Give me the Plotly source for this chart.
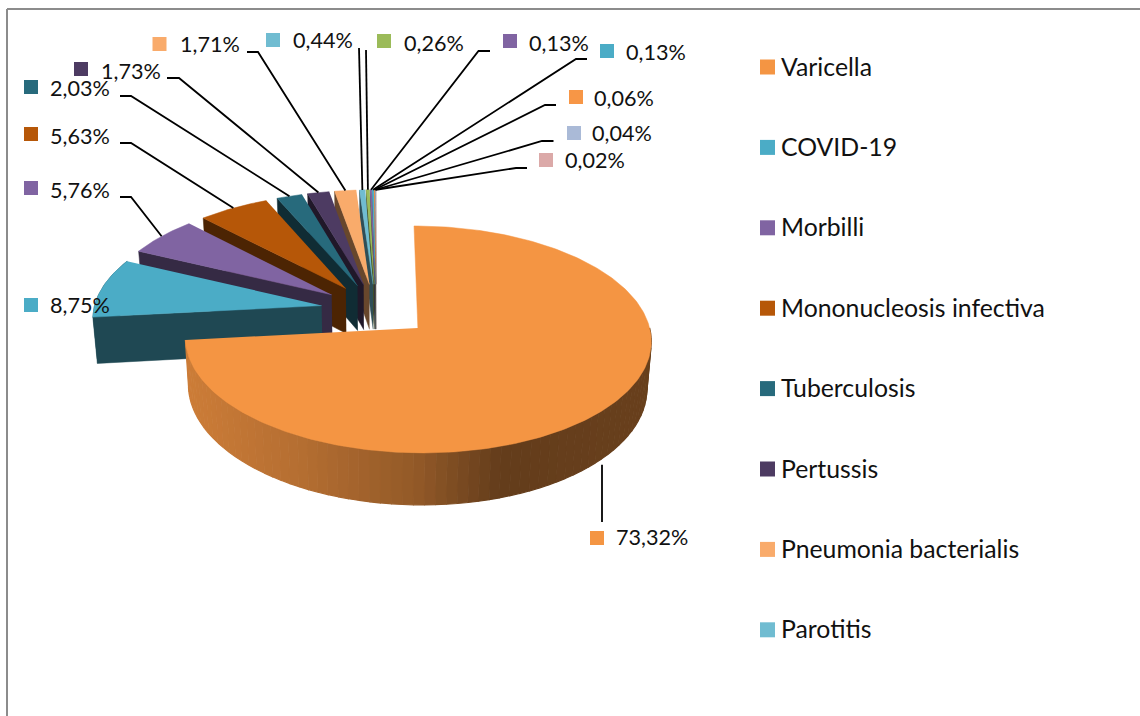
import math
import plotly.graph_objects as go

# ---------- data ----------
percent_labels = ["73,32%", "8,75%", "5,76%", "5,63%", "2,03%", "1,73%", "1,71%",
                  "0,44%", "0,26%", "0,13%", "0,13%", "0,06%", "0,04%", "0,02%"]
values = [73.32, 8.75, 5.76, 5.63, 2.03, 1.73, 1.71, 0.44, 0.26, 0.13, 0.13, 0.06, 0.04, 0.02]
legend_names = ["Varicella", "COVID-19", "Morbilli", "Mononucleosis infectiva",
                "Tuberculosis", "Pertussis", "Pneumonia bacterialis", "Parotitis"]
colors = ["#F49543", "#4BACC6", "#8064A2", "#B65708", "#276A7C", "#4D3B62", "#F9AB6B",
          "#70BCD1", "#9BBB59", "#8064A2", "#4BACC6", "#F79646", "#AABAD7", "#DBA9A8"]

# ---------- layout of the projection ----------
CX, CY = 376, 310
RX, RY = 228, 108.7
PERSP = 0.0995
EXPLODE = 0.243
DEPTH = 46
TAPER = 0.016

# label layout: square centre, text x, text y, leader stub start, stub end
label_layout = [
    (597, 538, 616, 538, (602, 522), (602, 522)),
    (31, 305, 50, 306, None, None),
    (31, 188, 50, 191, (120, 197), (131, 197)),
    (31, 134, 50, 137, (120, 143), (131, 143)),
    (31, 87, 50, 89, (120, 96), (131, 96)),
    (81, 69, 101, 72, (167, 78), (179, 78)),
    (159.5, 44, 180, 45, (247, 52), (258, 52)),
    (273, 40, 293, 41, (359, 48), (359, 48)),
    (384, 41, 404, 44, (366, 50), (366, 50)),
    (510, 41, 529, 44, (490, 51), (478.5, 51)),
    (607, 51, 626, 53, (587, 59), (576, 59)),
    (576, 97, 594, 99, (556, 105), (545, 105)),
    (574, 133, 592, 134, (553.5, 141), (542, 141)),
    (546, 160, 565, 161, (527, 168), (516, 168)),
]
LEGEND_X, LEGEND_TEXT_X, LEGEND_Y0, LEGEND_STEP = 767.5, 781, 67, 80.4
TEXT_DX, TEXT_DY = -2.5, -1
FONT = "Lato"
TEXT_SIZE = 21.6
LEGEND_SIZE = 24.8


def project(u, v, z=0.0):
    s = 1 / (1 + PERSP * v)
    return CX + RX * u * s * (1 - TAPER * z), CY - RY * v * s + DEPTH * z * s


def shade(hex_color, f):
    r, g, b = (int(hex_color[i:i + 2], 16) for i in (1, 3, 5))
    return f"rgb({int(r * f)},{int(g * f)},{int(b * f)})"


fig = go.Figure()


def poly(pts, color, lw=0.5):
    fig.add_trace(go.Scatter(x=[p[0] for p in pts], y=[p[1] for p in pts], mode="lines",
                             fill="toself", fillcolor=color, line=dict(color=color, width=lw),
                             hoverinfo="skip", showlegend=False))


total = sum(values)
slices = []
cum = 0.0
for val, col in zip(values, colors):
    a0 = cum / total * 2 * math.pi
    cum += val
    a1 = cum / total * 2 * math.pi
    mid = (a0 + a1) / 2
    slices.append((a0, a1, EXPLODE * math.sin(mid), EXPLODE * math.cos(mid), col))


def outer(sl, a, z=0.0):
    return project(sl[2] + math.sin(a), sl[3] + math.cos(a), z)


def apex(sl, z=0.0):
    return project(sl[2], sl[3], z)


def arc(sl, a0, a1, z=0.0, n=None):
    n = n or max(2, int(abs(a1 - a0) * 60))
    return [outer(sl, a0 + (a1 - a0) * i / n, z) for i in range(n + 1)]


# back-most small slices first, COVID-19 next to last, Varicella last
for sl in reversed(slices[1:]):
    a0, a1, _, _, col = sl
    # outer wall for the part of the rim facing the viewer
    if a0 < 1.5 * math.pi + 0.35:
        poly(arc(sl, a0, a1) + arc(sl, a1, a0, 1), shade(col, 0.42))
    # side wall on the start edge
    poly([apex(sl), outer(sl, a0), outer(sl, a0, 1), apex(sl, 1)], shade(col, 0.42))
    poly([apex(sl)] + arc(sl, a0, a1), col)

# Varicella: rim with gradient in small pieces
v = slices[0]
wall_stops = [(0.0, 0.84), (0.25, 0.74), (0.5, 0.60), (0.68, 0.41), (1.0, 0.43)]


def wall_factor(t):
    for (t0, f0), (t1, f1) in zip(wall_stops, wall_stops[1:]):
        if t <= t1:
            return f0 + (f1 - f0) * (t - t0) / (t1 - t0)
    return wall_stops[-1][1]


a_hi, a_lo = v[1], 0.5 * math.pi
pieces = 70
left_x, right_x = outer(v, a_hi)[0], outer(v, a_lo)[0]
for i in range(pieces):
    b0 = a_hi + (a_lo - a_hi) * i / pieces
    b1 = a_hi + (a_lo - a_hi) * (i + 1) / pieces
    xm = outer(v, (b0 + b1) / 2)[0]
    f = wall_factor((xm - left_x) / (right_x - left_x))
    poly(arc(v, b0, b1, 0, 2) + arc(v, b1, b0, 1, 2), shade(v[4], f), lw=1.2)
poly([apex(v)] + arc(v, v[0], v[1]), v[4])

# leader lines: from the label stub to the slice's mid-rim
for sl, lay in zip(slices, label_layout):
    if lay[4] is None:
        continue
    mid = (sl[0] + sl[1]) / 2
    if sl is slices[0]:
        end = (lay[4][0], outer(sl, mid, 1)[1] + 6)
    else:
        end = outer(sl, mid)
    fig.add_trace(go.Scatter(x=[lay[4][0], lay[5][0], end[0]], y=[lay[4][1], lay[5][1], end[1]],
                             mode="lines", line=dict(color="#000000", width=1.8),
                             hoverinfo="skip", showlegend=False))

# data labels
for val, lab, col, lay in zip(values, percent_labels, colors, label_layout):
    fig.add_trace(go.Scatter(x=[lay[0]], y=[lay[1]], mode="markers",
                             marker=dict(symbol="square", size=14, color=col),
                             hoverinfo="skip", showlegend=False))
    fig.add_annotation(x=lay[2] + TEXT_DX, y=lay[3] + TEXT_DY, text=lab, showarrow=False,
                       xanchor="left", yanchor="middle",
                       font=dict(family=FONT, size=TEXT_SIZE, color="#111111"))

# legend
for i, name in enumerate(legend_names):
    y = LEGEND_Y0 + i * LEGEND_STEP
    fig.add_trace(go.Scatter(x=[LEGEND_X], y=[y], mode="markers",
                             marker=dict(symbol="square", size=15, color=colors[i]),
                             hoverinfo="skip", showlegend=False))
    fig.add_annotation(x=LEGEND_TEXT_X + TEXT_DX, y=y + TEXT_DY, text=name, showarrow=False,
                       xanchor="left", yanchor="middle",
                       font=dict(family=FONT, size=LEGEND_SIZE, color="#111111"))

# chart frame
frame = dict(color="#8C8C8C", width=2)
fig.add_shape(type="line", x0=7, y0=9, x1=1140, y1=9, line=frame)
fig.add_shape(type="line", x0=7, y0=9, x1=7, y1=716, line=frame)

fig.update_layout(
    width=1140, height=716, margin=dict(l=0, r=0, t=0, b=0), autosize=False,
    paper_bgcolor="#FFFFFF", plot_bgcolor="#FFFFFF", showlegend=False,
    xaxis=dict(range=[0, 1140], visible=False, fixedrange=True),
    yaxis=dict(range=[716, 0], visible=False, fixedrange=True),
)
fig.write_html("out.html", config={"displayModeBar": False},
               post_script="document.body.style.margin='0';document.documentElement.style.overflow='hidden';")
